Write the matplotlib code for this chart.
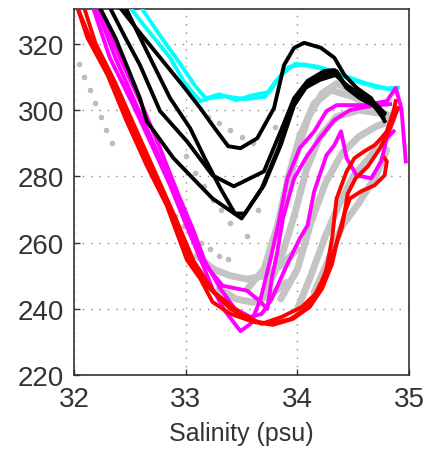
import matplotlib.pyplot as plt

plt.rcParams['font.family'] = ['Liberation Sans', 'DejaVu Sans']

# --- data: salinity (psu) vs. y-value for each profile ---
cyan_1_s = [32.50, 32.68, 32.86, 32.99, 33.13, 33.22, 33.35, 33.53, 33.71, 33.80, 33.92, 34.05, 34.20, 34.35, 34.50, 34.70, 34.88]
cyan_1_t = [331.0, 323.3, 315.8, 308.2, 302.7, 303.6, 304.2, 303.3, 304.0, 308.5, 313.0, 313.8, 313.0, 311.0, 309.0, 307.0, 306.0]
cyan_2_s = [32.60, 32.78, 32.95, 33.08, 33.18, 33.30, 33.45, 33.60, 33.75, 33.85, 33.98, 34.12, 34.28, 34.45, 34.62, 34.80, 34.90]
cyan_2_t = [331.0, 322.0, 314.0, 307.5, 303.5, 304.8, 303.0, 304.5, 305.5, 310.5, 314.0, 313.2, 312.0, 310.0, 308.0, 306.5, 306.8]

black_a_s = [32.41, 32.59, 32.81, 32.99, 33.13, 33.26, 33.38, 33.49, 33.64, 33.79, 33.88, 33.97, 34.06, 34.21, 34.33, 34.42, 34.53, 34.66, 34.78]
black_a_t = [331.0, 323.3, 314.2, 306.7, 300.6, 294.5, 289.1, 288.5, 291.5, 300.6, 313.6, 318.8, 320.3, 318.8, 315.8, 310.6, 306.7, 303.6, 296.7]
black_b_s = [32.32, 32.46, 32.59, 32.77, 33.01, 33.24, 33.43, 33.70, 33.85, 33.97, 34.09, 34.24, 34.33, 34.44, 34.56, 34.68, 34.77]
black_b_t = [331.0, 321.8, 313.6, 299.7, 290.6, 280.3, 277.0, 281.5, 293.6, 303.6, 308.8, 311.8, 312.1, 306.7, 303.6, 301.5, 298.5]
black_c_s = [32.23, 32.37, 32.47, 32.59, 32.65, 32.89, 33.24, 33.50, 33.70, 33.85, 33.97, 34.09, 34.24, 34.35, 34.44, 34.56, 34.68, 34.77]
black_c_t = [331.0, 321.8, 313.6, 303.6, 296.7, 285.5, 273.3, 267.3, 277.3, 289.4, 301.5, 307.6, 310.6, 311.8, 306.7, 303.6, 301.5, 297.6]
black_d_s = [32.46, 32.68, 32.86, 33.04, 33.17, 33.31, 33.44, 33.53, 33.68, 33.83, 33.95, 34.07, 34.20, 34.34, 34.45, 34.58, 34.69, 34.78]
black_d_t = [331.0, 315.8, 303.6, 294.5, 285.5, 276.4, 268.8, 268.8, 276.4, 288.5, 300.6, 306.7, 309.1, 310.6, 307.3, 304.2, 302.1, 299.1]

magenta_1_s = [32.17, 32.32, 32.53, 32.68, 32.86, 33.01, 33.13, 33.24, 33.35, 33.49, 33.58, 33.67, 33.76, 33.83, 33.91, 34.02, 34.15, 34.26, 34.35, 34.60, 34.80, 34.88, 34.93, 34.97]
magenta_1_t = [331.0, 315.8, 301.5, 290.6, 277.3, 264.8, 255.2, 246.1, 239.4, 233.3, 235.5, 243.0, 255.2, 265.8, 279.4, 288.5, 293.6, 299.7, 301.5, 301.5, 302.7, 306.7, 300.6, 284.5]
magenta_2_s = [32.20, 32.37, 32.57, 32.73, 32.90, 33.04, 33.13, 33.33, 33.55, 33.67, 33.73, 33.77, 33.82, 33.87, 33.97, 34.09, 34.20, 34.33, 34.47, 34.65, 34.83]
magenta_2_t = [331.0, 315.8, 300.6, 288.5, 274.8, 263.6, 255.2, 247.0, 245.5, 242.1, 240.0, 249.1, 257.3, 267.3, 279.4, 286.4, 291.5, 297.0, 300.0, 301.2, 301.8]
magenta_3_s = [32.23, 32.41, 32.62, 32.77, 32.93, 33.07, 33.17, 33.31, 33.44, 33.58, 33.68, 33.77, 33.89, 34.02, 34.09, 34.15, 34.26, 34.33, 34.39, 34.44, 34.53, 34.66, 34.75, 34.80, 34.86]
magenta_3_t = [331.0, 315.8, 300.6, 288.5, 274.8, 263.6, 254.5, 246.1, 240.0, 237.6, 238.5, 243.0, 252.1, 261.2, 265.2, 275.5, 286.4, 289.4, 293.6, 285.5, 280.3, 279.4, 284.5, 291.5, 293.6]

red_1_s = [32.03, 32.12, 32.30, 32.47, 32.65, 32.83, 33.01, 33.13, 33.24, 33.40, 33.58, 33.76, 33.94, 34.07, 34.18, 34.26, 34.31, 34.35, 34.44, 34.51, 34.60, 34.69, 34.75, 34.80, 34.86, 34.88]
red_1_t = [331.0, 321.8, 310.6, 296.7, 283.3, 271.2, 254.8, 249.1, 242.1, 238.5, 236.4, 235.5, 237.0, 240.0, 244.5, 252.1, 261.2, 273.3, 281.5, 285.5, 287.6, 289.4, 291.5, 293.6, 299.7, 302.7]
red_2_s = [32.03, 32.16, 32.34, 32.52, 32.70, 32.88, 33.04, 33.19, 33.40, 33.60, 33.78, 33.96, 34.11, 34.22, 34.31, 34.36, 34.42, 34.47, 34.57, 34.69, 34.78, 34.80, 34.78]
red_2_t = [331.0, 320.3, 308.2, 294.5, 281.8, 268.8, 254.5, 247.0, 240.0, 236.1, 235.2, 237.0, 240.6, 246.1, 253.6, 261.2, 268.8, 273.3, 275.5, 277.3, 280.3, 284.5, 285.5]
red_3_s = [32.09, 32.19, 32.37, 32.55, 32.73, 32.91, 33.07, 33.25, 33.50, 33.68, 33.86, 34.04, 34.16, 34.25, 34.34, 34.40, 34.45, 34.52, 34.63, 34.74, 34.83, 34.90]
red_3_t = [331.0, 320.3, 308.2, 294.5, 280.9, 267.3, 254.5, 245.2, 238.5, 235.5, 237.6, 240.6, 244.5, 250.6, 258.8, 264.8, 274.8, 279.4, 283.0, 288.5, 294.5, 300.6]

# background (grey) profiles: dense ones drawn as lines
gray_w1_s = [33.55, 33.70, 33.82, 33.92, 34.02, 34.15, 34.30, 34.50, 34.70, 34.85]
gray_w1_t = [246, 252, 265, 280, 292, 302, 306, 304, 300, 298]
gray_w2_s = [33.70, 33.85, 33.97, 34.08, 34.20, 34.35, 34.55, 34.75]
gray_w2_t = [244, 255, 268, 282, 292, 298, 300, 299]
gray_w3_s = [33.85, 34.00, 34.12, 34.25, 34.40, 34.55, 34.70, 34.85]
gray_w3_t = [243, 252, 266, 278, 287, 292, 295, 297]
gray_w4_s = [34.00, 34.12, 34.25, 34.38, 34.50, 34.65, 34.80]
gray_w4_t = [240, 250, 262, 272, 280, 286, 292]
gray_w5_s = [34.15, 34.28, 34.40, 34.55, 34.70, 34.80]
gray_w5_t = [245, 255, 265, 272, 280, 288]
gray_w6_s = [33.80, 33.90, 34.00, 34.10, 34.22, 34.35, 34.50]
gray_w6_t = [262, 275, 288, 298, 305, 308, 306]
gray_b1_s = [33.10, 33.25, 33.40, 33.55, 33.70, 33.85, 34.00]
gray_b1_t = [256, 252, 250, 249, 250, 253, 258]
gray_b2_s = [33.30, 33.45, 33.60, 33.75, 33.90]
gray_b2_t = [246, 243, 242, 244, 248]

# sparse ones drawn as dots only
gray_d1_s = [32.04, 32.09, 32.14, 32.19, 32.24, 32.29, 32.34]
gray_d1_t = [314, 310, 306, 302, 298, 294, 290]
gray_d2_s = [32.90, 32.98, 33.06, 33.14, 33.22, 33.30, 33.38]
gray_d2_t = [268, 265, 262, 260, 258, 256, 255]
gray_d3_s = [33.00, 33.08, 33.16, 33.24, 33.32, 33.40]
gray_d3_t = [286, 281, 277, 273, 270, 266]
gray_d4_s = [33.20, 33.30, 33.40, 33.50, 33.60]
gray_d4_t = [298, 296, 294, 292, 290]
gray_d5_s = [33.55, 33.65, 33.72, 33.80]
gray_d5_t = [262, 270, 282, 295]

gray_lines = [(gray_w1_s, gray_w1_t), (gray_w2_s, gray_w2_t), (gray_w3_s, gray_w3_t), (gray_w4_s, gray_w4_t),
              (gray_w5_s, gray_w5_t), (gray_w6_s, gray_w6_t), (gray_b1_s, gray_b1_t), (gray_b2_s, gray_b2_t)]
gray_dots = [(gray_d1_s, gray_d1_t), (gray_d2_s, gray_d2_t), (gray_d3_s, gray_d3_t),
             (gray_d4_s, gray_d4_t), (gray_d5_s, gray_d5_t)]
cyan_profiles = [(cyan_1_s, cyan_1_t), (cyan_2_s, cyan_2_t)]
magenta_profiles = [(magenta_1_s, magenta_1_t), (magenta_2_s, magenta_2_t), (magenta_3_s, magenta_3_t)]
red_profiles = [(red_1_s, red_1_t), (red_2_s, red_2_t), (red_3_s, red_3_t)]
black_profiles = [(black_a_s, black_a_t), (black_b_s, black_b_t), (black_c_s, black_c_t), (black_d_s, black_d_t)]

x_ticks = [32, 33, 34, 35]
y_ticks = [220, 240, 260, 280, 300, 320]

fig = plt.figure(figsize=(4.28, 4.56), dpi=100)
ax = fig.add_axes([0.173, 0.175, 0.783, 0.803])

for s, t in gray_lines:
    ax.plot(s, t, color='#c4c4c4', lw=5, solid_capstyle='round', zorder=2)
for s, t in gray_dots:
    ax.plot(s, t, color='#bdbdbd', ls='none', marker='o', ms=3, zorder=2)
for s, t in cyan_profiles:
    ax.plot(s, t, color='#00ffff', lw=2.8, zorder=3)
for s, t in magenta_profiles:
    ax.plot(s, t, color='#ff00ff', lw=2.8, zorder=4)
for s, t in red_profiles:
    ax.plot(s, t, color='#ff0000', lw=2.8, zorder=5)
for s, t in black_profiles:
    ax.plot(s, t, color='black', lw=2.8, zorder=6)

ax.set_xlim(32, 35)
ax.set_ylim(220, 330.5)
ax.set_xticks(x_ticks)
ax.set_yticks(y_ticks)
ax.grid(True, linestyle=(0, (1, 5)), color='#8a8a8a', lw=1.0)
ax.set_axisbelow(True)
ax.tick_params(direction='in', length=4, width=1, colors='#333333', labelsize=20)
ax.tick_params(axis='x', pad=8)
ax.tick_params(axis='y', pad=7)
for sp in ax.spines.values():
    sp.set_color('#333333')
    sp.set_linewidth(1.2)
ax.set_xlabel('Salinity (psu)', fontsize=18, color='#333333', labelpad=6)

fig.savefig('out.png', dpi=100)
